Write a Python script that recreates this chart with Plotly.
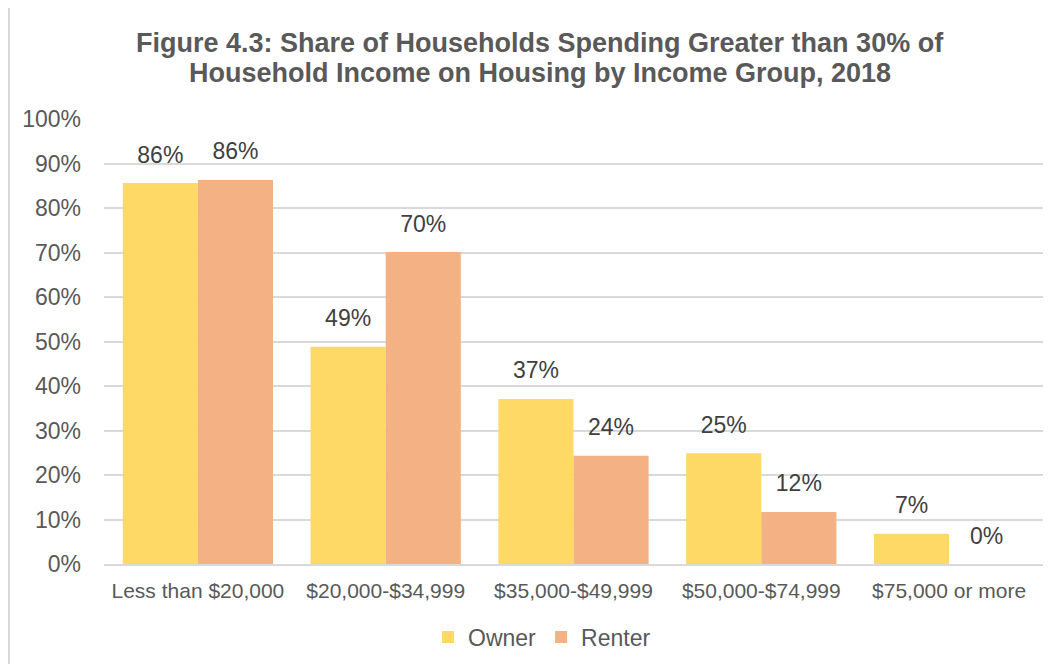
import plotly.graph_objects as go


# =========================================================
# data
# =========================================================

income_groups = [
    "Less than $20,000",
    "$20,000-$34,999",
    "$35,000-$49,999",
    "$50,000-$74,999",
    "$75,000 or more",
]

owner_share = [85.6, 48.8, 37.1, 24.9, 6.8]

renter_share = [86.3, 70.1, 24.3, 11.7, 0.0]

tick_values = list(range(0, 101, 10))

tick_labels = [f"{v}%" for v in tick_values]

title_lines = [
    "Figure 4.3: Share of Households Spending Greater than 30% of",
    "Household Income on Housing by Income Group, 2018",
]


# =========================================================
# figure
# =========================================================

FONT = "Liberation Sans, Arial, sans-serif"
TEXT_COLOR = "#595959"
LABEL_COLOR = "#404040"
GRID_COLOR = "#D9D9D9"
GAP = 0.2

# page body has an 8px margin, so the figure is sized to fit inside it
W, H = 1045, 656
L, R, T, B = 96, 10, 111, 100
pw, ph = W - L - R, H - T - B

fig = go.Figure()

series = [
    ("Owner", owner_share, "#FFD966"),
    ("Renter", renter_share, "#F4B183"),
]

for name, values, color in series:

    fig.add_trace(
        go.Bar(
            x=income_groups,
            y=values,
            name=name,
            marker=dict(color=color, line=dict(width=0)),
            hoverinfo="skip",
        )
    )

# value labels, grouped like the bars, lifted by an invisible marker
for name, values, color in series:

    fig.add_trace(
        go.Scatter(
            x=income_groups,
            y=values,
            mode="markers+text",
            marker=dict(size=22, color="rgba(0,0,0,0)"),
            text=[f"{v:.0f}%" for v in values],
            textposition="top center",
            textfont=dict(size=23, color=LABEL_COLOR, family=FONT),
            showlegend=False,
            hoverinfo="skip",
            cliponaxis=False,
        )
    )

# title, two lines set separately to keep Excel's tight line spacing
for i, line in enumerate(title_lines):

    fig.add_annotation(
        text=f"<b>{line}</b>",
        xref="paper",
        yref="paper",
        x=(532 - L) / pw,
        y=1 + (76 - 30 * i) / ph,
        xanchor="center",
        yanchor="middle",
        showarrow=False,
        font=dict(size=27, color=TEXT_COLOR, family=FONT),
    )

# light border around the chart
fig.add_shape(
    type="rect",
    xref="paper",
    yref="paper",
    x0=-(L - 1) / pw,
    x1=1 + (R + 20) / pw,
    y0=-(B + 20) / ph,
    y1=1 + (T + 20) / ph,
    line=dict(color=GRID_COLOR, width=2),
    fillcolor="rgba(0,0,0,0)",
    layer="below",
)

fig.update_layout(
    width=W,
    height=H,
    margin=dict(l=L, r=R, t=T, b=B),
    paper_bgcolor="white",
    plot_bgcolor="white",
    font=dict(family=FONT, color=TEXT_COLOR, size=21),
    barmode="group",
    bargap=GAP,
    bargroupgap=0,
    scattermode="group",
    scattergap=GAP,
    showlegend=True,
    legend=dict(
        orientation="h",
        xref="container",
        x=534 / W,
        xanchor="center",
        yref="container",
        y=1 - 629 / H,
        yanchor="middle",
        font=dict(size=23, color=TEXT_COLOR, family=FONT),
        itemwidth=30,
        tracegroupgap=0,
    ),
    xaxis=dict(
        showgrid=False,
        showline=True,
        linecolor=GRID_COLOR,
        linewidth=2,
        ticks="",
        ticklabelstandoff=7,
        tickfont=dict(size=21, color=TEXT_COLOR),
    ),
    yaxis=dict(
        range=[0, 100],
        tickvals=tick_values,
        ticktext=tick_labels,
        showgrid=True,
        gridcolor=GRID_COLOR,
        gridwidth=2,
        zeroline=False,
        showline=False,
        ticks="",
        ticklabelstandoff=22,
        tickfont=dict(size=23, color=TEXT_COLOR),
    ),
)

fig.write_html("out.html")
